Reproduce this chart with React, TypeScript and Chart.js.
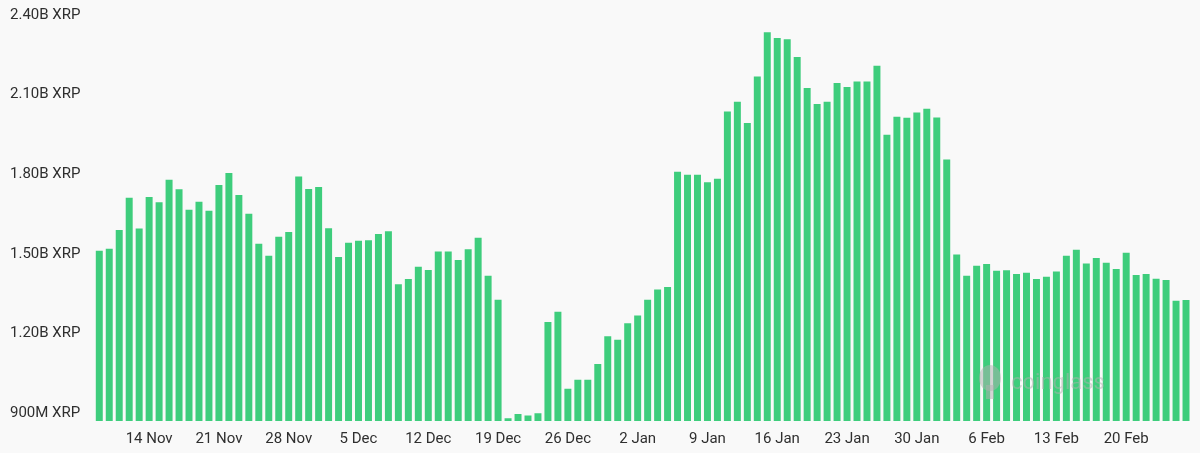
import React, { useEffect, useRef } from "react";
import { Chart, registerables } from "chart.js";

Chart.register(...registerables);

const CATEGORIES: string[] = [
  "9 Nov", "10 Nov", "11 Nov", "12 Nov", "13 Nov", "14 Nov", "15 Nov", "16 Nov", "17 Nov", "18 Nov", "19 Nov",
  "20 Nov", "21 Nov", "22 Nov", "23 Nov", "24 Nov", "25 Nov", "26 Nov", "27 Nov", "28 Nov", "29 Nov", "30 Nov",
  "1 Dec", "2 Dec", "3 Dec", "4 Dec", "5 Dec", "6 Dec", "7 Dec", "8 Dec", "9 Dec", "10 Dec",
  "11 Dec", "12 Dec", "13 Dec", "14 Dec", "15 Dec", "16 Dec", "17 Dec", "18 Dec", "19 Dec", "20 Dec",
  "21 Dec", "22 Dec", "23 Dec", "24 Dec", "25 Dec", "26 Dec", "27 Dec", "28 Dec", "29 Dec", "30 Dec", "31 Dec",
  "1 Jan", "2 Jan", "3 Jan", "4 Jan", "5 Jan", "6 Jan", "7 Jan", "8 Jan", "9 Jan", "10 Jan",
  "11 Jan", "12 Jan", "13 Jan", "14 Jan", "15 Jan", "16 Jan", "17 Jan", "18 Jan", "19 Jan", "20 Jan",
  "21 Jan", "22 Jan", "23 Jan", "24 Jan", "25 Jan", "26 Jan", "27 Jan", "28 Jan", "29 Jan", "30 Jan", "31 Jan",
  "1 Feb", "2 Feb", "3 Feb", "4 Feb", "5 Feb", "6 Feb", "7 Feb", "8 Feb", "9 Feb", "10 Feb",
  "11 Feb", "12 Feb", "13 Feb", "14 Feb", "15 Feb", "16 Feb", "17 Feb", "18 Feb", "19 Feb", "20 Feb",
  "21 Feb", "22 Feb", "23 Feb", "24 Feb", "25 Feb", "26 Feb",
];

// Open interest, in millions of XRP
const OPEN_INTEREST_M: number[] = [
  1512, 1519, 1590, 1711, 1595, 1714, 1694, 1779, 1743, 1666, 1696,
  1662, 1759, 1805, 1722, 1651, 1538, 1493, 1564, 1582, 1791, 1744,
  1752, 1596, 1488, 1542, 1549, 1551, 1575, 1585, 1385, 1405,
  1451, 1439, 1509, 1509, 1477, 1517, 1561, 1417, 1327, 880,
  896, 891, 899, 1243, 1282, 992, 1025, 1025, 1085, 1189, 1176,
  1238, 1268, 1327, 1366, 1375, 1809, 1798, 1798, 1770, 1783,
  2036, 2073, 1993, 2168, 2335, 2313, 2309, 2242, 2125, 2065,
  2073, 2144, 2129, 2149, 2149, 2209, 1949, 2017, 2013, 2033, 2047,
  2014, 1855, 1497, 1417, 1455, 1462, 1436, 1438, 1424, 1429,
  1405, 1414, 1433, 1493, 1515, 1464, 1484, 1466, 1443, 1504,
  1420, 1424, 1406, 1401, 1323, 1326,
];

const X_TICK_LABELS: string[] = [
  "14 Nov", "21 Nov", "28 Nov", "5 Dec", "12 Dec", "19 Dec", "26 Dec",
  "2 Jan", "9 Jan", "16 Jan", "23 Jan", "30 Jan", "6 Feb", "13 Feb", "20 Feb",
];

const Y_TICKS_M: number[] = [900, 1200, 1500, 1800, 2100, 2400];

const Y_MIN_M = 870;
const Y_MAX_M = 2400;

function formatM(v: number): string {
  if (v >= 1000) return (v / 1000).toFixed(2) + "B XRP";
  return v + "M XRP";
}

const watermark = {
  id: "watermark",
  afterDatasetsDraw(chart: any) {
    const { ctx } = chart;
    ctx.save();
    ctx.fillStyle = "rgba(175,175,175,0.5)";
    ctx.beginPath();
    ctx.ellipse(990, 378, 11, 13, 0, 0, Math.PI * 2);
    ctx.fill();
    ctx.fillRect(986, 385, 8, 14);
    ctx.font = "22px Roboto, 'Noto Sans', sans-serif";
    ctx.textBaseline = "middle";
    ctx.textAlign = "left";
    ctx.fillText("coinglass", 1011, 383);
    ctx.restore();
  },
};

export default function App() {
  const canvasRef = useRef<HTMLCanvasElement | null>(null);

  useEffect(() => {
    if (!canvasRef.current) return;
    const chart = new Chart(canvasRef.current, {
      type: "bar",
      data: {
        labels: CATEGORIES,
        datasets: [
          {
            label: "Open Interest",
            data: OPEN_INTEREST_M,
            backgroundColor: "#3ecd7c",
            borderWidth: 0,
            barPercentage: 0.7,
            categoryPercentage: 1,
          },
        ],
      },
      options: {
        animation: false,
        responsive: true,
        maintainAspectRatio: false,
        layout: { padding: { left: 10, top: 15, right: 9, bottom: 0 } },
        plugins: {
          legend: { display: false },
          tooltip: { enabled: false },
        },
        scales: {
          x: {
            grid: { display: false, drawTicks: false },
            border: { display: false },
            ticks: {
              autoSkip: false,
              maxRotation: 0,
              minRotation: 0,
              padding: 9,
              color: "#2f2f2f",
              font: { family: "Roboto, 'Noto Sans', sans-serif", size: 15 },
              callback: function (_v: any, i: number) {
                const lab = CATEGORIES[i];
                return X_TICK_LABELS.includes(lab) ? lab : "";
              },
            },
            afterFit: (scale: any) => {
              scale.height = 32;
            },
          },
          y: {
            min: Y_MIN_M,
            max: Y_MAX_M,
            grid: { display: false, drawTicks: false },
            border: { display: false },
            afterBuildTicks: (scale: any) => {
              scale.ticks = Y_TICKS_M.map((v) => ({ value: v }));
            },
            afterFit: (scale: any) => {
              scale.width = 84.3;
            },
            ticks: {
              crossAlign: "far",
              color: "#2f2f2f",
              font: { family: "Roboto, 'Noto Sans', sans-serif", size: 15 },
              callback: (v: any) => formatM(Number(v)),
            },
          },
        },
      },
      plugins: [watermark],
    } as any);
    return () => chart.destroy();
  }, []);

  return (
    <div
      style={{
        position: "fixed",
        left: 0,
        top: 0,
        width: 1200,
        height: 453,
        background: "#f9f9f9",
      }}
    >
      <canvas ref={canvasRef} />
    </div>
  );
}
